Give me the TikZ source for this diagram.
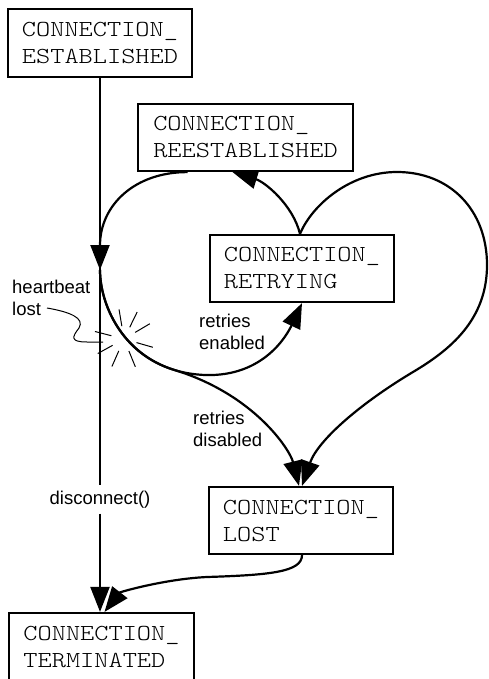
\documentclass[tikz,border=0pt]{standalone}
\usepackage{fontspec}
\usetikzlibrary{arrows.meta,calc}
\newfontfamily\lblfont{Liberation Sans}
\newfontfamily\boxfont{Latin Modern Mono Light}[FakeStretch=1.18]

\tikzset{
  state/.style={draw, line width=2.2pt, inner sep=0pt, align=left,
    font=\boxfont\fontsize{22.9}{27}\selectfont},
  edge/.style={line width=2.2pt},
  conn/.style={edge, -{Triangle[length=25pt,width=19pt]}},
  lbl/.style={inner sep=0pt, align=left, anchor=west,
    font=\lblfont\fontsize{18.5}{22}\selectfont},
  fine/.style={line width=1pt}
}

\begin{document}
\begin{tikzpicture}[x=1pt,y=-1pt]
  \useasboundingbox (0,0) rectangle (488,679);
  \fill[white] (0,0) rectangle (488,679);

  % states
  \node[state, minimum width=184pt, minimum height=68pt] (est)   at (100,43)    {CONNECTION\_\\ESTABLISHED};
  \node[state, minimum width=215pt, minimum height=67pt] (reest) at (245.5,137.5) {CONNECTION\_\\REESTABLISHED};
  \node[state, minimum width=184pt, minimum height=67pt] (retry) at (302,268.5) {CONNECTION\_\\RETRYING};
  \node[state, minimum width=184pt, minimum height=67pt] (lost)  at (301,520.5) {CONNECTION\_\\LOST};
  \node[state, minimum width=185pt, minimum height=67pt] (term)  at (101.5,646.5) {CONNECTION\_\\TERMINATED};

  % labels
  \node[lbl] (hb)  at (12,297.5) {heartbeat\\lost};
  \node[lbl] (en)  at (199,332)  {retries\\enabled};
  \node[lbl] (dis) at (193,429)  {retries\\disabled};
  \node[lbl, anchor=center, inner ysep=5.3pt] (disc) at (100,499.5) {disconnect()};

  \coordinate (join)  at (100,270);
  \coordinate (spark) at (124,339);
  \coordinate (hbend) at (47,308);

  % disconnect() path
  \draw[edge] (est.south) -- (est.south |- disc.north);
  \draw[conn] (est.south |- disc.south) -- (est.south |- term.north);

  % reestablished -> heartbeat line
  \draw[conn] ([xshift=-58pt]reest.south) .. controls (135,172) and (100,205) .. (join);

  % retries enabled
  \draw[conn] (join) .. controls (100,310) and (130,372) .. (205,375)
                     .. controls (265,377) and (288,333) .. (retry.south);

  % retries disabled
  \draw[conn] (join) .. controls (100,304) and (121.7,353.9) .. (174.2,369.9)
                     .. controls (254.6,394.5) and (290,450) .. ([xshift=-2pt]lost.north);

  % retrying -> reestablished
  \draw[conn] ([xshift=-2pt]retry.north) .. controls (293,205) and (265,182) .. ([xshift=-13pt]reest.south);

  % retrying -> lost (right lobe)
  \draw[conn] ([xshift=-2pt]retry.north) .. controls (312,205) and (350,172) .. (397,172)
              .. controls (450,172) and (487,210) .. (487,265)
              .. controls (487,320) and (450,350) .. (413,372)
              .. controls (361,403) and (318,440) .. ([xshift=1pt]lost.north);

  % lost -> terminated
  \draw[conn] ([xshift=1pt]lost.south) .. controls (302,572) and (270,575) .. (207,577)
              .. controls (165,579) and (120,592) .. ([xshift=3pt]term.north);

  % heartbeat spark
  \foreach \a in {-99.5,-64,-30.6,16,67.8,113.7,151,194.5}
    \draw[fine] ([shift={(\a:13)}]spark) -- ([shift={(\a:30)}]spark);

  % leader from the heartbeat label
  \draw[fine] (hbend) .. controls (70,312) and (85,318) .. (79,328)
              .. controls (72,337) and (70,342) .. (87,342) -- (103,342);
\end{tikzpicture}
\end{document}
